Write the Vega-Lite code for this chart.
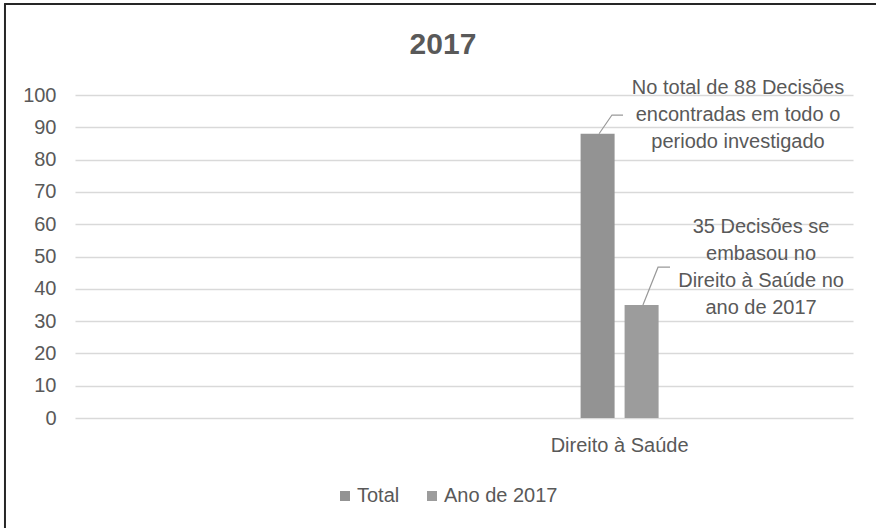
{
  "$schema": "https://vega.github.io/schema/vega-lite/v6.json",
  "width": 778,
  "height": 323,
  "autosize": {"type": "none"},
  "padding": {"left": 75, "top": 95, "right": 23, "bottom": 110},
  "background": "white",
  "config": {
    "view": {"stroke": null},
    "font": "Liberation Sans",
    "axisY": {
      "labelOverlap": false,
      "labelFontSize": 20,
      "labelColor": "#595959",
      "labelPadding": 19,
      "ticks": false,
      "domain": false,
      "grid": true,
      "gridColor": "#d9d9d9",
      "gridWidth": 1.5
    }
  },
  "datasets": {
    "bars": [
      {"categoria": "Direito à Saúde", "serie": "Total", "decisoes": 88},
      {"categoria": "Direito à Saúde", "serie": "Ano de 2017", "decisoes": 35}
    ],
    "leaders": [
      {"grupo": "Total", "ordem": 1, "px": 3.368, "py": 88},
      {"grupo": "Total", "ordem": 2, "px": 3.451, "py": 93.8},
      {"grupo": "Total", "ordem": 3, "px": 3.522, "py": 93.8},
      {"grupo": "Ano de 2017", "ordem": 1, "px": 3.65, "py": 35},
      {"grupo": "Ano de 2017", "ordem": 2, "px": 3.747, "py": 46.7},
      {"grupo": "Ano de 2017", "ordem": 3, "px": 3.824, "py": 46.7}
    ],
    "notes": [
      {"texto": "No total de 88 Decisões|encontradas em todo o|periodo investigado", "px": 4.261, "py": 102.2},
      {"texto": "35 Decisões se|embasou no|Direito à Saúde no|ano de 2017", "px": 4.409, "py": 59.1}
    ],
    "titulo": [{"texto": "2017", "px": 2.365, "py": 115.5}]
  },
  "layer": [
    {
      "data": {"name": "bars"},
      "mark": {"type": "bar"},
      "encoding": {
        "x": {
          "field": "categoria",
          "type": "nominal",
          "scale": {"domain": ["vazio1", "vazio2", "vazio3", "Direito à Saúde", "vazio5"], "paddingInner": 0, "paddingOuter": 0},
          "axis": {
            "title": null,
            "labelAngle": 0,
            "labelFontSize": 20,
            "labelColor": "#595959",
            "labelPadding": 17,
            "ticks": false,
            "domain": false,
            "grid": false,
            "labelExpr": "datum.label == 'Direito à Saúde' ? datum.label : ''"
          }
        },
        "xOffset": {
          "field": "serie",
          "type": "nominal",
          "scale": {"domain": ["Total", "Ano de 2017"], "paddingInner": 0.227, "paddingOuter": 0.882}
        },
        "y": {
          "field": "decisoes",
          "type": "quantitative",
          "scale": {"domain": [0, 100], "nice": false},
          "axis": {"title": null, "values": [0, 10, 20, 30, 40, 50, 60, 70, 80, 90, 100]}
        },
        "color": {
          "field": "serie",
          "type": "nominal",
          "scale": {"domain": ["Total", "Ano de 2017"], "range": ["#939393", "#9c9c9c"]},
          "legend": {
            "orient": "none",
            "legendX": 260,
            "legendY": 391,
            "direction": "horizontal",
            "title": null,
            "symbolType": "square",
            "symbolSize": 100,
            "symbolStrokeWidth": 0,
            "labelFontSize": 20,
            "labelColor": "#595959",
            "labelOffset": 2,
            "columnPadding": 22
          }
        }
      }
    },
    {
      "data": {"name": "leaders"},
      "mark": {"type": "line", "color": "#999999", "strokeWidth": 1.2},
      "encoding": {
        "x": {"field": "px", "type": "quantitative", "scale": {"domain": [0, 5], "nice": false, "zero": false}, "axis": null},
        "y": {"field": "py", "type": "quantitative", "axis": {"title": null, "values": [0, 10, 20, 30, 40, 50, 60, 70, 80, 90, 100]}},
        "detail": {"field": "grupo"},
        "order": {"field": "ordem"}
      }
    },
    {
      "data": {"name": "notes"},
      "mark": {"type": "text", "align": "center", "baseline": "middle", "lineBreak": "|", "lineHeight": 27, "fontSize": 20, "color": "#595959"},
      "encoding": {
        "x": {"field": "px", "type": "quantitative", "scale": {"domain": [0, 5], "nice": false, "zero": false}, "axis": null},
        "y": {"field": "py", "type": "quantitative", "axis": {"title": null, "values": [0, 10, 20, 30, 40, 50, 60, 70, 80, 90, 100]}},
        "text": {"field": "texto"}
      }
    },
    {
      "data": {"name": "titulo"},
      "mark": {"type": "text", "align": "center", "baseline": "middle", "fontSize": 30, "fontWeight": "bold", "color": "#595959"},
      "encoding": {
        "x": {"field": "px", "type": "quantitative", "scale": {"domain": [0, 5], "nice": false, "zero": false}, "axis": null},
        "y": {"field": "py", "type": "quantitative", "axis": {"title": null, "values": [0, 10, 20, 30, 40, 50, 60, 70, 80, 90, 100]}},
        "text": {"field": "texto"}
      }
    },
    {
      "data": {"values": [{"borda": "topo"}]},
      "mark": {"type": "rule", "color": "#262626", "strokeWidth": 2},
      "encoding": {
        "x": {"datum": -0.456, "type": "quantitative", "scale": {"domain": [0, 5], "nice": false, "zero": false}, "axis": null},
        "x2": {"datum": 5.2},
        "y": {"datum": 128.2, "type": "quantitative", "axis": {"title": null, "values": [0, 10, 20, 30, 40, 50, 60, 70, 80, 90, 100]}},
        "y2": {"datum": 128.2}
      }
    },
    {
      "data": {"values": [{"borda": "esquerda"}]},
      "mark": {"type": "rule", "color": "#262626", "strokeWidth": 2},
      "encoding": {
        "x": {"datum": -0.45, "type": "quantitative", "scale": {"domain": [0, 5], "nice": false, "zero": false}, "axis": null},
        "x2": {"datum": -0.45},
        "y": {"datum": 128.2, "type": "quantitative", "axis": {"title": null, "values": [0, 10, 20, 30, 40, 50, 60, 70, 80, 90, 100]}},
        "y2": {"datum": -36}
      }
    }
  ],
  "resolve": {"scale": {"x": "independent"}}
}
